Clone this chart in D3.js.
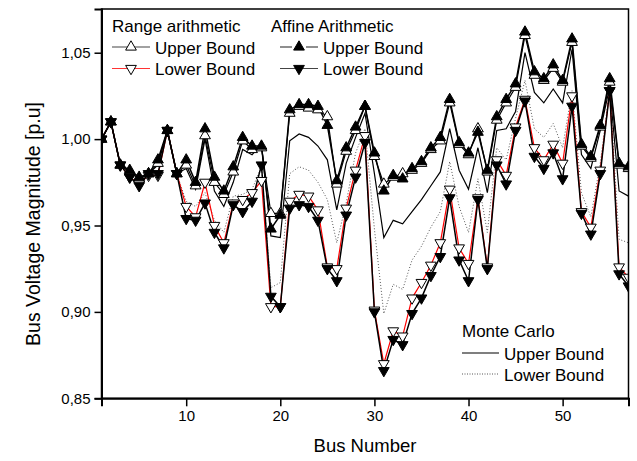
<!DOCTYPE html>
<html>
<head>
<meta charset="utf-8">
<script src="https://cdn.jsdelivr.net/npm/d3@7/dist/d3.min.js"></script>
<style>
  body { margin: 0; background: #fff; }
  text { font-family: Arial, "Liberation Sans", sans-serif; fill: #000; }
</style>
</head>
<body>
<div id="chart"></div>
<script>
// bus numbers (x categories)
const buses = [1,2,3,4,5,6,7,8,9,10,11,12,13,14,15,16,17,18,19,20,21,22,23,24,25,26,27,28,29,30,
  31,32,33,34,35,36,37,38,39,40,41,42,43,44,45,46,47,48,49,50,51,52,53,54,55,56,57];

// Range arithmetic
const raUpper = [1.000,1.010,0.985,0.981,0.977,0.980,0.986,1.005,0.980,0.985,0.973,1.002,0.975,0.968,0.981,
  0.999,0.994,0.995,0.957,0.957,1.015,1.019,1.018,1.017,1.013,0.974,0.993,1.005,1.019,0.990,
  0.974,0.978,0.980,0.982,0.986,0.994,0.999,1.021,0.997,0.991,1.006,0.981,1.011,1.021,1.030,
  1.060,1.037,1.034,1.041,1.033,1.056,0.996,0.989,1.007,1.033,0.985,0.983];
const raLower = [1.000,1.010,0.985,0.978,0.974,0.979,0.979,1.005,0.980,0.961,0.955,0.975,0.950,0.940,0.963,
  0.965,0.969,0.976,0.903,0.903,0.964,0.968,0.967,0.959,0.926,0.925,0.960,0.982,1.002,0.901,
  0.870,0.889,0.886,0.908,0.917,0.927,0.940,0.971,0.937,0.928,0.966,0.926,0.988,0.979,1.007,
  1.023,0.995,0.988,0.997,0.986,1.025,0.958,0.949,0.982,1.028,0.926,0.920];

// Affine arithmetic
const aaUpper = [1.000,1.010,0.985,0.982,0.978,0.980,0.988,1.005,0.980,0.988,0.975,1.006,0.978,0.970,0.984,
  1.001,0.996,0.996,0.948,0.956,1.017,1.020,1.020,1.019,1.008,0.976,0.995,1.007,1.019,0.992,
  0.970,0.979,0.977,0.983,0.987,0.995,1.001,1.023,0.998,0.992,1.004,0.982,1.013,1.023,1.032,
  1.062,1.039,1.035,1.043,1.034,1.058,0.997,0.990,1.008,1.035,0.986,0.984];
const aaLower = [1.000,1.010,0.985,0.978,0.973,0.980,0.980,1.005,0.980,0.954,0.953,0.963,0.946,0.937,0.962,
  0.958,0.964,0.985,0.909,0.903,0.960,0.962,0.961,0.953,0.925,0.918,0.956,0.978,0.998,0.900,
  0.866,0.884,0.881,0.899,0.908,0.921,0.932,0.966,0.930,0.918,0.965,0.925,0.985,0.974,1.005,
  1.022,0.990,0.983,0.992,0.977,1.019,0.957,0.945,0.980,1.028,0.922,0.915];

// Monte Carlo
const mcUpper = [1.000,1.010,0.985,0.981,0.977,0.980,0.985,1.005,0.980,0.983,0.971,1.000,0.970,0.961,0.975,
  0.994,0.991,0.997,0.944,0.943,0.999,1.003,1.001,0.996,0.988,0.959,0.986,1.001,1.015,0.980,
  0.943,0.953,0.951,0.958,0.965,0.973,0.981,1.006,0.982,0.971,0.995,0.969,1.005,1.006,1.016,
  1.050,1.027,1.021,1.029,1.021,1.052,0.991,0.983,1.005,1.030,0.970,0.967];
const mcLower = [1.000,1.010,0.985,0.979,0.975,0.980,0.981,1.005,0.980,0.964,0.961,0.969,0.953,0.946,0.967,
  0.968,0.971,0.984,0.914,0.917,0.980,0.984,0.982,0.975,0.965,0.940,0.963,0.992,1.006,0.948,
  0.899,0.916,0.913,0.930,0.938,0.949,0.958,0.987,0.961,0.946,0.977,0.946,0.995,0.988,1.012,
  1.034,1.006,1.001,1.009,0.995,1.028,0.969,0.955,0.986,1.029,0.942,0.940];

const xTicks = [10, 20, 30, 40, 50];
const yTicks = [0.85, 0.90, 0.95, 1.00, 1.05];

const w = 637, h = 461;
const margin = {top: 9, right: 8.5, bottom: 62.7, left: 101.5};

const xScale = d3.scaleLinear().domain([1, 57]).range([margin.left, w - margin.right]);
const yScale = d3.scaleLinear().domain([0.85, 1.0753]).range([h - margin.bottom, margin.top]);

const svg = d3.select("#chart").append("svg")
  .attr("width", w).attr("height", h);

svg.append("clipPath").attr("id", "plotClip")
  .append("rect")
  .attr("x", margin.left).attr("y", margin.top)
  .attr("width", w - margin.left - margin.right)
  .attr("height", h - margin.top - margin.bottom);

const plot = svg.append("g").attr("clip-path", "url(#plotClip)");

const line = vals => d3.line()
  .x((d, i) => xScale(buses[i]))
  .y(d => yScale(d))(vals);

const tri = d3.symbol(d3.symbolTriangle).size(50);

function drawLine(vals, color, width, dash) {
  plot.append("path")
    .attr("d", line(vals))
    .attr("fill", "none")
    .attr("stroke", color)
    .attr("stroke-width", width)
    .attr("stroke-dasharray", dash || null)
    .attr("stroke-linejoin", "miter");
}

function drawMarkers(vals, down, filled) {
  plot.append("g").selectAll("path")
    .data(vals)
    .enter()
    .append("path")
    .attr("d", tri)
    .attr("transform", (d, i) => "translate(" + xScale(buses[i]) + "," + yScale(d) + ")" + (down ? " rotate(180)" : ""))
    .attr("fill", filled ? "#000" : "#fff")
    .attr("stroke", "#000")
    .attr("stroke-width", 1);
}

drawLine(mcLower, "#555", 1, "1,2");
drawLine(mcUpper, "#000", 1.2);
drawLine(raUpper, "#000", 1.2);
drawLine(raLower, "#ff0000", 1.2);
drawLine(aaUpper, "#000", 1.5);
drawLine(aaLower, "#000", 1.5);
drawMarkers(raUpper, false, false);
drawMarkers(raLower, true, false);
drawMarkers(aaUpper, false, true);
drawMarkers(aaLower, true, true);

// frame
svg.append("rect")
  .attr("x", margin.left).attr("y", margin.top)
  .attr("width", w - margin.left - margin.right)
  .attr("height", h - margin.top - margin.bottom)
  .attr("fill", "none").attr("stroke", "#000").attr("stroke-width", 1.5);

const fmt = d => d3.format(".2f")(d).replace(".", ",");

const xAxis = svg.append("g")
  .attr("transform", "translate(0," + (h - margin.bottom) + ")")
  .call(d3.axisBottom(xScale).tickValues(xTicks).tickSize(8).tickPadding(4));
const yAxis = svg.append("g")
  .attr("transform", "translate(" + margin.left + ",0)")
  .call(d3.axisLeft(yScale).tickValues(yTicks).tickFormat(fmt).tickSize(7).tickPadding(4));

[xAxis, yAxis].forEach(ax => {
  ax.select(".domain").attr("stroke-width", 2);
  ax.selectAll(".tick line").attr("stroke-width", 1.5);
  ax.selectAll(".tick text").style("font-size", "15px").style("font-family", "Arial, 'Liberation Sans', sans-serif");
});

svg.append("text")
  .attr("x", (margin.left + w - margin.right) / 2)
  .attr("y", 452)
  .attr("text-anchor", "middle")
  .style("font-size", "18.5px")
  .text("Bus Number");

svg.append("text")
  .attr("transform", "rotate(-90)")
  .attr("x", -224)
  .attr("y", 40)
  .attr("text-anchor", "middle")
  .style("font-size", "19.5px")
  .text("Bus Voltage Magnitude [p.u]");

// legends
function legendRow(x0, x1, y, opts) {
  const g = svg.append("g");
  const xm = (x0 + x1) / 2;
  if (opts.gap) {
    g.append("line").attr("x1", x0).attr("x2", xm - 7).attr("y1", y).attr("y2", y)
      .attr("stroke", opts.color).attr("stroke-width", opts.width);
    g.append("line").attr("x1", xm + 7).attr("x2", x1).attr("y1", y).attr("y2", y)
      .attr("stroke", opts.color).attr("stroke-width", opts.width);
  } else {
    g.append("line").attr("x1", x0).attr("x2", x1).attr("y1", y).attr("y2", y)
      .attr("stroke", opts.color).attr("stroke-width", opts.width)
      .attr("stroke-dasharray", opts.dash || null);
  }
  if (opts.marker) {
    g.append("path").attr("d", tri)
      .attr("transform", "translate(" + xm + "," + y + ")" + (opts.down ? " rotate(180)" : ""))
      .attr("fill", opts.filled ? "#000" : "#fff")
      .attr("stroke", "#000");
  }
  g.append("text").attr("x", x1 + 5).attr("y", y + 6.5)
    .style("font-size", "17px").text(opts.label);
}

svg.append("text").attr("x", 112).attr("y", 32).style("font-size", "17px").text("Range arithmetic");
legendRow(112, 150, 47, {color: "#444", width: 1.2, marker: true, down: false, filled: false, label: "Upper Bound"});
legendRow(112, 150, 68.5, {color: "#ff3333", width: 1.2, marker: true, down: true, filled: false, label: "Lower Bound"});

svg.append("text").attr("x", 271).attr("y", 32).style("font-size", "17px").text("Affine Arithmetic");
legendRow(280, 318, 47, {color: "#444", width: 1.2, marker: true, down: false, filled: true, gap: true, label: "Upper Bound"});
legendRow(280, 318, 68.5, {color: "#444", width: 1.2, marker: true, down: true, filled: true, label: "Lower Bound"});

svg.append("text").attr("x", 462).attr("y", 337).style("font-size", "17px").text("Monte Carlo");
legendRow(462, 499, 353, {color: "#000", width: 1.2, label: "Upper Bound"});
legendRow(462, 499, 374, {color: "#555", width: 1, dash: "1,1.5", label: "Lower Bound"});
</script>
</body>
</html>
